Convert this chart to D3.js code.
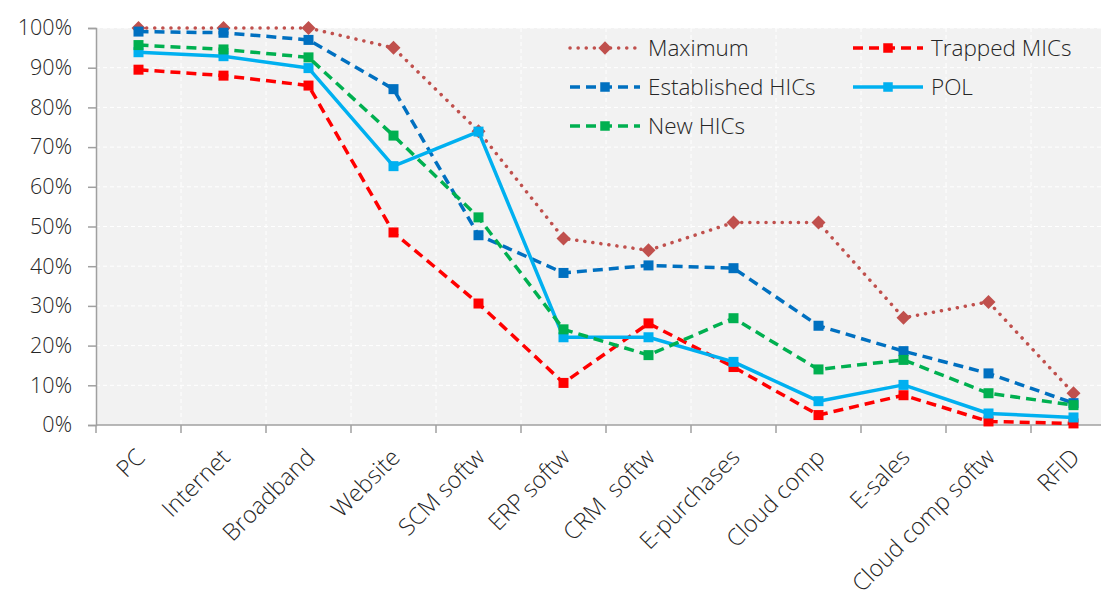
<!DOCTYPE html>
<html>
<head>
<meta charset="utf-8">
<script src="https://cdn.jsdelivr.net/npm/d3@7"></script>
<style>
  body { margin: 0; background: #fff; }
  svg { display: block; font-family: "Open Sans", sans-serif; }
</style>
</head>
<body>
<div id="chart"></div>
<script>
// categories and series values (share of firms, %)
const categories = ["PC", "Internet", "Broadband", "Website", "SCM softw", "ERP softw",
  "CRM  softw", "E-purchases", "Cloud comp", "E-sales", "Cloud comp softw", "RFID"];

const maximum     = [100, 100, 100, 95, 74, 47, 44, 51, 51, 27, 31, 8];
const trappedMICs = [89.5, 88, 85.5, 48.5, 30.6, 10.6, 25.6, 14.6, 2.5, 7.5, 0.9, 0.4];
const establishedHICs = [99.1, 98.8, 97, 84.6, 47.8, 38.3, 40.2, 39.5, 25, 18.6, 13, 5.5];
const pol         = [93.9, 92.9, 89.9, 65.2, 73.9, 22.1, 22.1, 15.9, 6, 10.1, 2.9, 1.9];
const newHICs     = [95.7, 94.6, 92.6, 72.9, 52.3, 24.1, 17.6, 26.9, 14, 16.4, 8, 5];

const yTicks = [0, 10, 20, 30, 40, 50, 60, 70, 80, 90, 100];

const series = [
  { name: "Maximum", values: maximum, color: "#c0504d", dash: "0.1,8", cap: "round", marker: "diamond" },
  { name: "Trapped MICs", values: trappedMICs, color: "#ff0000", dash: "10,6", cap: "butt", marker: "square" },
  { name: "Established HICs", values: establishedHICs, color: "#0070c0", dash: "10,6", cap: "butt", marker: "square" },
  { name: "POL", values: pol, color: "#00b0f0", dash: null, cap: "butt", marker: "square" },
  { name: "New HICs", values: newHICs, color: "#00b050", dash: "10,6", cap: "butt", marker: "square" }
];

const width = 1101, height = 590;
const margin = { left: 96, top: 28 };
const plotW = 1020, plotH = 397;
const lineW = 3.5;

const svg = d3.select("#chart").append("svg")
  .attr("width", width)
  .attr("height", height);

const x = d3.scaleBand()
  .domain(categories)
  .range([margin.left, margin.left + plotW]);

const y = d3.scaleLinear()
  .domain([0, 100])
  .range([margin.top + plotH, margin.top]);

// plot background
svg.append("rect")
  .attr("x", margin.left)
  .attr("y", margin.top)
  .attr("width", plotW)
  .attr("height", plotH)
  .attr("fill", "#f2f2f2");

// gridlines
svg.append("g")
  .selectAll("line")
  .data(yTicks.slice(1))
  .join("line")
  .attr("x1", margin.left).attr("x2", margin.left + plotW)
  .attr("y1", d => y(d)).attr("y2", d => y(d))
  .attr("stroke", "#fff").attr("stroke-width", 1).attr("stroke-dasharray", "4,3");

svg.append("g")
  .selectAll("line")
  .data(categories.slice(1))
  .join("line")
  .attr("x1", d => x(d)).attr("x2", d => x(d))
  .attr("y1", margin.top).attr("y2", margin.top + plotH)
  .attr("stroke", "#fff").attr("stroke-width", 1).attr("stroke-dasharray", "4,3");

// y axis
const yAxis = svg.append("g")
  .attr("transform", `translate(${margin.left},0)`)
  .call(d3.axisLeft(y).tickValues(yTicks).tickFormat(d => d + "%").tickSize(8).tickPadding(16));
yAxis.select(".domain").attr("stroke", "#a0a0a0").attr("stroke-width", 1.5);
yAxis.selectAll(".tick line").attr("stroke", "#a0a0a0").attr("stroke-width", 1.5);
yAxis.selectAll(".tick text")
  .attr("font-size", 21.5)
  .attr("font-family", "Open Sans, sans-serif")
  .attr("font-weight", 300)
  .attr("fill", "#262626");

// x axis (ticks at category boundaries)
const xAxisG = svg.append("g");
xAxisG.append("line")
  .attr("x1", margin.left).attr("x2", margin.left + plotW)
  .attr("y1", y(0)).attr("y2", y(0))
  .attr("stroke", "#a0a0a0").attr("stroke-width", 1.5);
xAxisG.selectAll(".xt")
  .data(categories)
  .join("line")
  .attr("class", "xt")
  .attr("x1", d => x(d)).attr("x2", d => x(d))
  .attr("y1", y(0)).attr("y2", y(0) + 8)
  .attr("stroke", "#a0a0a0").attr("stroke-width", 1.5);

xAxisG.selectAll(".xl")
  .data(categories)
  .join("text")
  .attr("class", "xl")
  .attr("transform", d => `translate(${x(d) + x.bandwidth() / 2 + 2},${y(0) + 28}) rotate(-45)`)
  .attr("text-anchor", "end")
  .attr("dy", "0.35em")
  .attr("font-size", 23.5)
  .attr("font-weight", 300)
  .attr("fill", "#262626")
  .style("white-space", "pre")
  .text(d => d);

// lines and markers
const line = d3.line()
  .x((d, i) => x(categories[i]) + x.bandwidth() / 2)
  .y(d => y(d));

function drawMarker(g, s, cx, cy, scale) {
  if (s.marker === "diamond") {
    const r = 7 * scale;
    g.append("path")
      .attr("d", `M${cx},${cy - r}L${cx + r},${cy}L${cx},${cy + r}L${cx - r},${cy}Z`)
      .attr("fill", s.color);
  } else {
    const h = 5 * scale;
    g.append("rect")
      .attr("x", cx - h).attr("y", cy - h)
      .attr("width", 2 * h).attr("height", 2 * h)
      .attr("fill", s.color);
  }
}

series.forEach(s => {
  const g = svg.append("g");
  g.append("path")
    .datum(s.values)
    .attr("d", line)
    .attr("fill", "none")
    .attr("stroke", s.color)
    .attr("stroke-width", lineW)
    .attr("stroke-linecap", s.cap)
    .attr("stroke-linejoin", "round")
    .attr("stroke-dasharray", s.dash);
  s.values.forEach((v, i) => drawMarker(g, s, x(categories[i]) + x.bandwidth() / 2, y(v), 1));
});

// legend
const legendPos = [
  { x: 570, y: 48 }, { x: 853, y: 48 },
  { x: 570, y: 87 }, { x: 853, y: 87 },
  { x: 570, y: 126 }
];
series.forEach((s, i) => {
  const p = legendPos[i];
  const g = svg.append("g");
  g.append("line")
    .attr("x1", p.x).attr("x2", p.x + 70)
    .attr("y1", p.y).attr("y2", p.y)
    .attr("stroke", s.color)
    .attr("stroke-width", lineW)
    .attr("stroke-linecap", s.cap)
    .attr("stroke-dasharray", s.dash);
  drawMarker(g, s, p.x + 35, p.y, 0.95);
  g.append("text")
    .attr("x", p.x + 78)
    .attr("y", p.y)
    .attr("dy", "0.35em")
    .attr("font-size", 22.5)
    .attr("font-weight", 300)
    .attr("fill", "#262626")
    .text(s.name);
});
</script>
</body>
</html>
